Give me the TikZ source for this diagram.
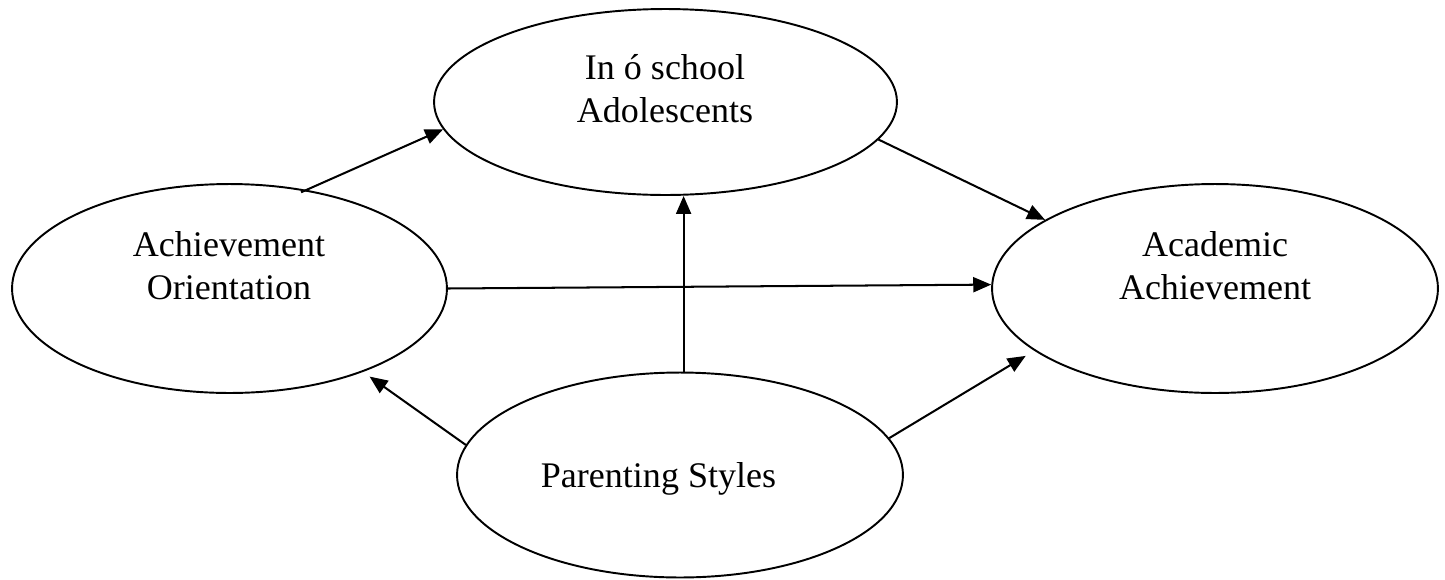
\documentclass[tikz,border=0pt]{standalone}
\usepackage{fontspec}
\setmainfont{Liberation Serif}
\usetikzlibrary{arrows.meta,shapes.geometric}

\begin{document}
\begin{tikzpicture}[x=0.02cm,y=-0.02cm,
        oval/.style={draw,ellipse,line width=1.1pt,inner sep=0pt},
        lbl/.style={align=center,inner sep=0pt,font=\fontsize{20.5}{24.5}\selectfont},
        arr/.style={line width=1.15pt,-{Triangle[length=0.36cm,width=0.3cm]}}]
        \useasboundingbox (0,0) rectangle (1445,579);
        % the four ovals
        \node[oval,minimum width=9.26cm,minimum height=3.72cm] (teen) at (665.5,102) {};
        \node[oval,minimum width=8.7cm,minimum height=4.18cm] (orient) at (229.5,288.5) {};
        \node[oval,minimum width=8.92cm,minimum height=4.18cm] (acad) at (1215,288.5) {};
        \node[oval,minimum width=8.92cm,minimum height=4.1cm] (parent) at (680,475) {};
        % their texts
        \node[lbl] (teentxt) at (665,88.5) {In ó school\\Adolescents};
        \node[lbl] (orienttxt) at (229,265.5) {Achievement\\Orientation};
        \node[lbl] (acadtxt) at (1215,266) {Academic\\Achievement};
        \node[lbl] (parenttxt) at (658.5,478.5) {Parenting Styles};
        % arrows
        \draw[arr,shorten <=-0.12cm] (orient.52.7) -- (teen.187.2);
        \draw[arr] (teen.350.9) -- (acad.158.1);
        \draw[arr] (orient.0.4) -- (acad.179.1);
        \draw[arr] (parent.88.2) -- (parent.88.2 |- teen.south);
        \draw[arr,shorten >=0.16cm] (parent.172.3) -- (orient.328.9);
        \draw[arr,shorten >=0.2cm] (parent.10.95) -- (acad.199.97);
\end{tikzpicture}
\end{document}
